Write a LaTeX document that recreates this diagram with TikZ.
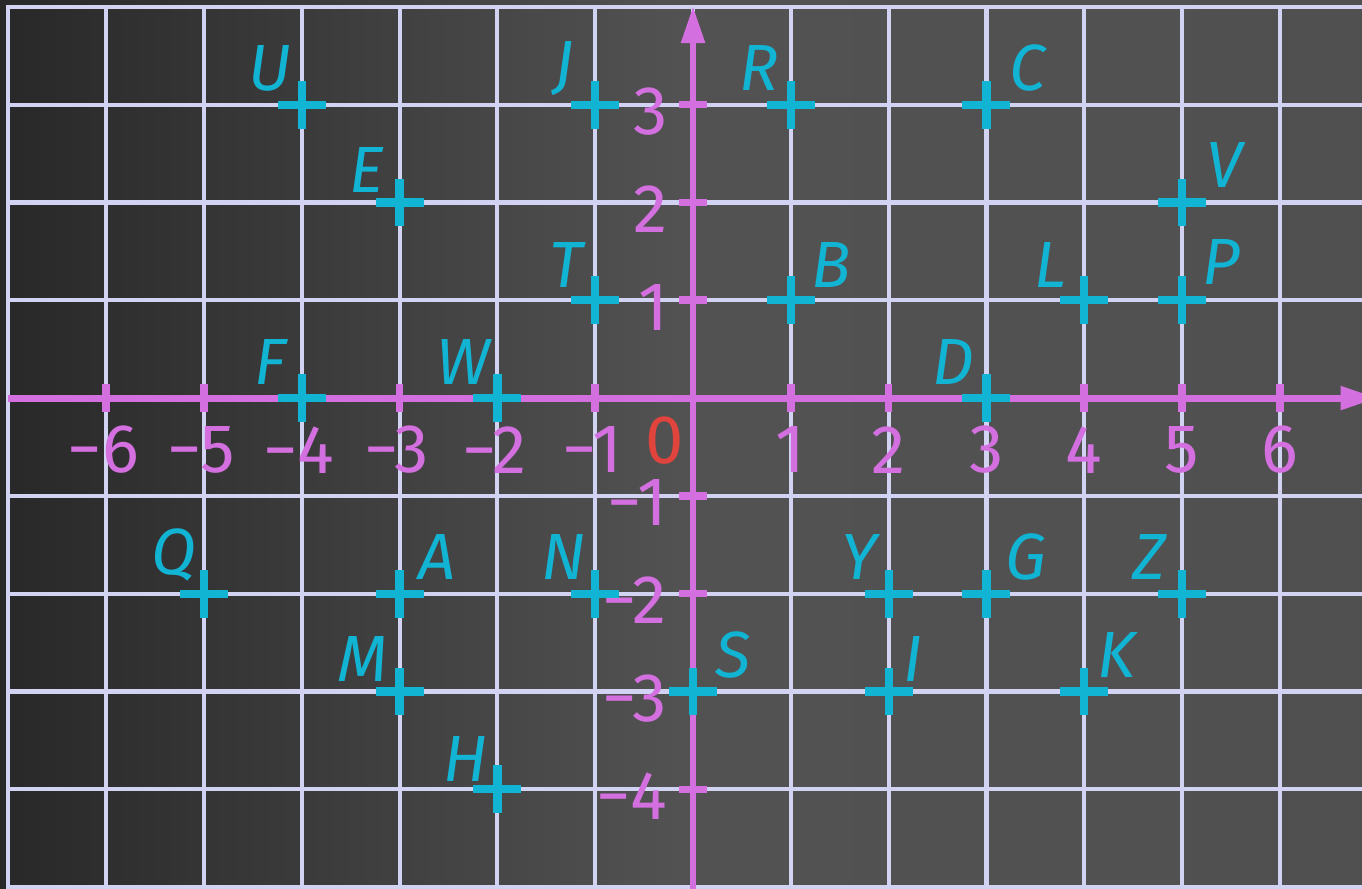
\documentclass[tikz,border=0pt]{standalone}
\usepackage{fontspec}
\setmainfont{Fira Sans}
\usetikzlibrary{arrows.meta}
\definecolor{gridc}{HTML}{D2D2F2}
\definecolor{axisc}{HTML}{D46FE0}
\definecolor{ptc}{HTML}{12B4D4}
\definecolor{zeroc}{HTML}{E0443C}
\definecolor{bgl}{HTML}{282828}
\definecolor{bgm}{HTML}{525252}
\definecolor{bgr}{HTML}{505050}
\begin{document}
\begin{tikzpicture}[
  gridline/.style={gridc, line width=1.2pt},
  axisline/.style={axisc, line width=2pt, -{Triangle[length=0.38cm,width=0.23cm]}},
  tickmark/.style={axisc, line width=2.2pt},
  cross/.style={ptc, line width=2.4pt},
  ptlabel/.style={ptc, font=\fontsize{19}{20}\selectfont\itshape, inner sep=0pt},
  numlabel/.style={axisc, font=\fontsize{20}{22}\selectfont, inner sep=0pt},
]
\useasboundingbox (-7.086,-5.010) rectangle (6.840,4.070);
\clip (-7.086,-5.010) rectangle (6.840,4.070);
\shade[left color=bgl, right color=bgr, middle color=bgm] (-7.086,-5.010) rectangle (6.840,4.070);
% grid
\foreach \x in {-7,...,6} \draw[gridline] (\x,4.02) -- (\x,-5.1);
\foreach \y in {-5,...,4} \draw[gridline] (-7.02,\y) -- (7,\y);
% axes
\coordinate (xs) at (-7,0);
\coordinate (xe) at (7.0,0);
\coordinate (ys) at (0,-5.1);
\coordinate (ye) at (0,4.01);
\draw[axisline] (xs) -- (xe);
\draw[axisline] (ys) -- (ye);
% ticks
\foreach \x in {-6,...,-1,1,2,...,6} \draw[tickmark] (\x,-0.14) -- (\x,0.14);
\foreach \y in {-4,...,-1,1,2,3} \draw[tickmark] (-0.14,\y) -- (0.14,\y);
% x numbers
\foreach \x in {-6,...,-1} \node[numlabel] (nx\x) at (\x-0.03,-0.53) {−\the\numexpr-\x\relax};
\foreach \x in {1,...,6} \node[numlabel] (nx\x) at (\x,-0.53) {\x};
% y numbers
\foreach \y in {1,2,3} \node[numlabel, anchor=east] (ny\y) at (-0.25,\y-0.07) {\y};
\foreach \y in {-4,...,-1} \node[numlabel, anchor=east] (ny\y) at (-0.26,\y-0.07) {−\the\numexpr-\y\relax};
\node[numlabel, zeroc] (n0) at (-0.29,-0.43) {0};
% points
\foreach \n/\px/\py/\dx/\dy in {
  U/-4/3/-0.33/0.37, E/-3/2/-0.34/0.33, J/-1/3/-0.32/0.37, R/1/3/-0.33/0.37,
  C/3/3/0.42/0.37, V/5/2/0.43/0.38, T/-1/1/-0.30/0.36, B/1/1/0.41/0.36,
  L/4/1/-0.34/0.36, P/5/1/0.40/0.39, F/-4/0/-0.32/0.37, W/-2/0/-0.35/0.37,
  D/3/0/-0.34/0.37, Q/-5/-2/-0.31/0.40, A/-3/-2/0.38/0.37, N/-1/-2/-0.32/0.37,
  Y/2/-2/-0.30/0.37, G/3/-2/0.40/0.37, Z/5/-2/-0.33/0.37, M/-3/-3/-0.38/0.33,
  S/0/-3/0.41/0.37, I/2/-3/0.25/0.33, K/4/-3/0.33/0.37, H/-2/-4/-0.33/0.31}
{
  \coordinate (p\n) at (\px,\py);
  \draw[cross] (p\n) +(-0.245,0) -- +(0.245,0) (p\n) +(0,-0.245) -- +(0,0.245);
  \node[ptlabel] (l\n) at ([shift={(\dx,\dy)}]p\n) {\n};
}
\end{tikzpicture}
\end{document}
